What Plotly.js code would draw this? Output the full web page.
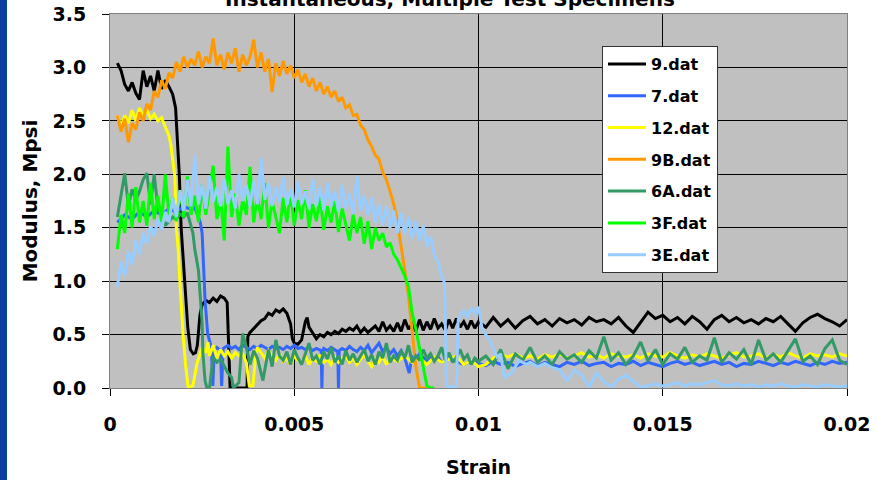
<!DOCTYPE html>
<html>
<head>
<meta charset="utf-8">
<script src="https://cdn.plot.ly/plotly-3.0.1.min.js"></script>
<style>html,body{margin:0;padding:0;background:#fff;}#chart{width:878px;height:480px;}</style>
</head>
<body>
<div id="chart"></div>
<script>
// ---------- tick labels ----------
const xTickVals = [0, 0.005, 0.01, 0.015, 0.02];
const xTickText = ['0', '0.005', '0.01', '0.015', '0.02'];
const yTickVals = [0, 0.5, 1.0, 1.5, 2.0, 2.5, 3.0, 3.5];
const yTickText = ['0.0', '0.5', '1.0', '1.5', '2.0', '2.5', '3.0', '3.5'];
const seriesNames = ['9.dat', '7.dat', '12.dat', '9B.dat', '6A.dat', '3F.dat', '3E.dat'];

// shared strain samples for the flat tail (0.010 .. 0.020)
const strainTail = [0.0100,0.0102,0.0104,0.0106,0.0108,0.0110,0.0112,0.0114,0.0116,0.0118,
  0.0120,0.0122,0.0124,0.0126,0.0128,0.0130,0.0132,0.0134,0.0136,0.0138,
  0.0140,0.0142,0.0144,0.0146,0.0148,0.0150,0.0152,0.0154,0.0156,0.0158,
  0.0160,0.0162,0.0164,0.0166,0.0168,0.0170,0.0172,0.0174,0.0176,0.0178,
  0.0180,0.0182,0.0184,0.0186,0.0188,0.0190,0.0192,0.0194,0.0196,0.0198,0.0200];

// ---------- 9.dat (black) ----------
const strain9 = [0.0002,0.0003,0.0004,0.0005,0.0006,0.0007,0.0008,0.0009,0.0010,0.0011,0.0012,0.0013,0.0014,0.0015,0.0016,0.0017,
  0.00178,0.00183,0.00188,0.00193,0.00203,0.00211,0.00218,0.00226,0.00232,0.00237,0.00244,0.0025,0.0026,0.0027,0.0028,0.0029,0.0030,0.0031,0.00318,0.00322,0.00326,0.00372,0.00374,
  0.0038,0.0039,0.0040,0.0041,0.0042,0.0043,0.0044,0.0045,0.0046,0.0047,0.0048,0.0049,0.00495,0.0050,0.0051,0.0052,0.0053,0.00535,0.0054,0.0055,0.0056,0.0057,0.0058,0.0059,
  0.0060,0.0061,0.0062,0.0063,0.0064,0.0065,0.0066,0.0067,0.0068,0.0069,0.0070,0.0071,0.0072,0.0073,0.0074,0.0075,0.0076,0.0077,0.0078,0.0079,
  0.0080,0.0081,0.0082,0.0083,0.0084,0.0085,0.0086,0.0087,0.0088,0.0089,0.0090,0.0091,0.0092,0.0093,0.0094,0.0095,0.0096,0.0097,0.0098,0.0099];
const modulus9 = [3.04,2.97,2.84,2.78,2.86,2.76,2.70,2.97,2.82,2.92,2.78,2.97,2.80,2.88,2.82,2.75,
  2.62,2.35,2.0,1.5,0.98,0.57,0.36,0.32,0.33,0.40,0.68,0.78,0.82,0.80,0.84,0.81,0.86,0.84,0.80,0.40,0.0,0.0,0.48,
  0.52,0.56,0.60,0.63,0.65,0.70,0.68,0.73,0.71,0.74,0.70,0.60,0.46,0.42,0.41,0.45,0.62,0.66,0.57,0.52,0.46,0.50,0.48,0.52,
  0.50,0.53,0.51,0.55,0.53,0.56,0.54,0.58,0.52,0.56,0.52,0.55,0.58,0.53,0.62,0.54,0.58,0.53,0.61,0.53,
  0.64,0.55,0.60,0.53,0.64,0.54,0.62,0.55,0.65,0.56,0.60,0.54,0.64,0.56,0.65,0.57,0.62,0.55,0.63,0.56];
const modulus9Tail = [0.62,0.57,0.66,0.58,0.64,0.56,0.63,0.67,0.60,0.64,
  0.58,0.65,0.61,0.64,0.59,0.66,0.62,0.64,0.60,0.66,
  0.58,0.52,0.62,0.71,0.65,0.68,0.62,0.66,0.60,0.67,
  0.62,0.55,0.64,0.68,0.62,0.66,0.61,0.64,0.60,0.65,
  0.62,0.67,0.60,0.53,0.61,0.66,0.69,0.65,0.62,0.58,0.64];

// ---------- 7.dat (blue) ----------
const strain7 = [0.0002,0.0004,0.0006,0.0008,0.0010,0.0012,0.0014,0.0016,0.0018,0.0020,0.0022,0.0023,0.00245,0.0025,0.00258,0.00265,0.00275,
  0.00279,0.00283,0.0029,0.0030,0.00303,0.00307,0.0032,0.0033,0.0034,0.0035,0.0036,0.0037,0.0038,0.0039,0.0040,0.0041,0.0042,0.0043,0.0044,
  0.0045,0.0046,0.0047,0.0048,0.0049,0.0050,0.0051,0.0052,0.0053,0.0054,0.0055,0.0056,0.00573,0.00575,0.00577,0.0058,0.0059,0.0060,0.0061,0.00618,
  0.0062,0.00622,0.0063,0.0064,0.0065,0.0066,0.0067,0.0068,0.0069,0.0070,0.0071,0.0072,0.0073,0.0074,0.0075,0.0076,0.0077,0.0078,0.0079,0.0080,
  0.00812,0.0082,0.0083,0.0084,0.0085,0.0086,0.0087,0.0088,0.0089,0.0090,0.0092,0.0094,0.0096,0.0098];
const modulus7 = [1.55,1.62,1.58,1.65,1.60,1.66,1.62,1.68,1.64,1.70,1.67,1.69,1.55,1.45,0.82,0.51,0.38,
  0.02,0.36,0.38,0.35,0.02,0.37,0.40,0.37,0.39,0.36,0.40,0.38,0.36,0.39,0.37,0.40,0.38,0.36,0.39,
  0.37,0.38,0.36,0.39,0.37,0.40,0.37,0.38,0.36,0.38,0.35,0.37,0.35,0.0,0.34,0.37,0.35,0.38,0.36,0.34,
  0.0,0.35,0.37,0.35,0.39,0.36,0.34,0.38,0.35,0.40,0.33,0.37,0.42,0.34,0.38,0.32,0.36,0.30,0.35,0.28,
  0.14,0.30,0.26,0.32,0.28,0.25,0.30,0.26,0.29,0.24,0.28,0.25,0.22,0.26];
const modulus7Tail = [0.23,0.21,0.25,0.22,0.24,0.20,0.23,0.25,0.21,0.24,
  0.22,0.20,0.24,0.22,0.25,0.21,0.23,0.24,0.20,0.23,
  0.22,0.25,0.21,0.24,0.22,0.20,0.23,0.25,0.22,0.24,
  0.21,0.23,0.25,0.22,0.24,0.20,0.23,0.22,0.25,0.23,
  0.21,0.24,0.22,0.25,0.23,0.21,0.24,0.22,0.25,0.23,0.24];

// ---------- 12.dat (yellow) ----------
const strain12 = [0.0002,0.0003,0.0004,0.0005,0.0006,0.0007,0.0008,0.0009,0.0010,0.0011,0.0012,0.0013,0.0014,0.0015,0.0016,0.00165,0.0017,0.00176,
  0.0018,0.00185,0.0019,0.00198,0.00205,0.00212,0.00225,0.00236,0.0025,0.0026,0.00266,0.0027,0.0028,0.0029,0.0030,0.0031,0.0032,0.0033,0.0034,
  0.0035,0.0036,0.0037,0.00378,0.00388,0.00395,0.0040,0.0041,0.0042,0.0043,0.0044,0.0045,0.0046,0.0047,0.0048,0.0049,0.0050,0.0051,0.0052,
  0.0053,0.0054,0.0055,0.0056,0.0057,0.0058,0.0059,0.0060,0.0061,0.0062,0.0063,0.0064,0.0065,0.0066,0.0067,0.0068,0.0069,0.0070,0.0071,
  0.0072,0.0073,0.0074,0.0075,0.0076,0.0078,0.0080,0.0082,0.0084,0.0086,0.0088,0.0090,0.0092,0.0094,0.0096,0.0098];
const modulus12 = [2.55,2.45,2.55,2.48,2.60,2.50,2.62,2.54,2.60,2.52,2.56,2.50,2.53,2.44,2.36,2.28,2.12,1.98,
  1.50,1.30,0.98,0.51,0.22,0.01,0.02,0.23,0.38,0.33,0.43,0.30,0.40,0.28,0.36,0.30,0.34,0.28,0.33,
  0.30,0.32,0.24,0.02,0.02,0.30,0.38,0.33,0.28,0.35,0.30,0.26,0.32,0.25,0.28,0.22,0.30,0.26,0.24,
  0.30,0.22,0.28,0.25,0.31,0.24,0.27,0.22,0.29,0.24,0.28,0.30,0.24,0.28,0.22,0.27,0.31,0.25,0.20,
  0.27,0.24,0.30,0.22,0.28,0.25,0.30,0.24,0.28,0.22,0.29,0.24,0.27,0.30,0.22,0.26];
const modulus12Tail = [0.20,0.22,0.28,0.31,0.29,0.32,0.28,0.30,0.27,0.31,
  0.29,0.32,0.28,0.30,0.33,0.29,0.31,0.28,0.32,0.30,
  0.29,0.31,0.28,0.32,0.30,0.29,0.33,0.30,0.28,0.31,
  0.29,0.32,0.30,0.28,0.31,0.33,0.29,0.30,0.32,0.28,
  0.31,0.29,0.33,0.30,0.28,0.32,0.30,0.31,0.29,0.32,0.30];

// ---------- 9B.dat (orange) ----------
const strain9B = [0.0002,0.0003,0.0004,0.0005,0.0006,0.0007,0.0008,0.0009,0.0010,0.0011,0.0012,0.0013,0.0014,0.0015,0.0016,0.0017,0.0018,0.0019,
  0.0020,0.0021,0.0022,0.0023,0.0024,0.0025,0.0026,0.0027,0.0028,0.0029,0.0030,0.0031,0.0032,0.0033,0.0034,0.0035,0.0036,0.0037,0.0038,0.0039,
  0.0040,0.0041,0.0042,0.0043,0.0044,0.0045,0.0046,0.0047,0.0048,0.0049,0.0050,0.0051,0.0052,0.0053,0.0054,0.0055,0.0056,0.0057,0.0058,0.0059,
  0.0060,0.0061,0.0062,0.0063,0.0064,0.0065,0.0066,0.0067,0.0068,0.0069,0.0070,0.0071,0.0072,0.0073,0.0074,0.0075,0.0076,0.0077,0.0078,0.0079,
  0.0080,0.0081,0.0082,0.0083,0.0084,0.0086];
const modulus9B = [2.55,2.40,2.52,2.30,2.48,2.42,2.58,2.50,2.66,2.60,2.78,2.72,2.88,2.80,2.95,2.90,3.05,2.96,
  3.10,3.00,3.08,3.02,3.15,3.00,3.10,3.04,3.27,3.02,3.12,2.98,3.14,3.04,3.18,2.96,3.12,3.02,3.10,3.26,
  3.00,3.14,2.96,3.08,2.77,3.04,2.92,3.06,2.94,3.02,2.90,2.98,2.86,2.94,2.82,2.90,2.78,2.86,2.75,2.82,
  2.72,2.78,2.68,2.72,2.62,2.65,2.55,2.56,2.46,2.42,2.32,2.26,2.18,2.14,2.02,1.95,1.84,1.72,1.55,1.30,
  1.10,0.86,0.54,0.20,0.0,0.0];

// ---------- 6A.dat (sea green) ----------
const strain6A = [0.0002,0.0003,0.0004,0.0005,0.0006,0.0007,0.0008,0.0009,0.0010,0.0011,0.0012,0.0013,0.0014,0.0015,0.0016,0.0017,0.0018,0.0019,
  0.0020,0.0021,0.00225,0.0023,0.0024,0.0025,0.00252,0.00258,0.00263,0.0027,0.0028,0.0029,0.0030,0.0031,0.0032,0.0033,0.00335,0.0035,
  0.0036,0.0037,0.0038,0.0039,0.0040,0.00415,0.0043,0.0044,0.0045,0.0046,0.0047,0.0048,0.0049,0.0050,0.0051,0.0052,0.0053,0.0054,0.0055,
  0.0056,0.0057,0.0058,0.0059,0.0060,0.0061,0.0062,0.0063,0.0064,0.0065,0.0066,0.0067,0.0068,0.0069,0.0070,0.0071,0.0072,0.0073,0.0074,
  0.0075,0.0076,0.0077,0.0078,0.0079,0.0080,0.0081,0.0082,0.0083,0.0084,0.0085,0.0086,0.0087,0.0088,0.0089,0.0090,0.0091,0.0092,0.0093,
  0.0094,0.0095,0.0096,0.0097,0.0098,0.0099];
const modulus6A = [1.60,1.82,2.01,1.70,1.86,1.76,1.84,1.95,2.01,1.72,2.00,1.68,1.62,1.52,1.56,1.60,1.58,1.63,
  1.60,1.64,1.45,1.30,1.10,0.61,0.33,0.07,0.0,0.0,0.29,0.24,0.27,0.20,0.14,0.10,0.0,0.05,
  0.51,0.38,0.22,0.35,0.28,0.07,0.36,0.20,0.45,0.30,0.26,0.34,0.22,0.36,0.28,0.22,0.32,0.42,0.26,
  0.30,0.22,0.34,0.27,0.38,0.24,0.30,0.22,0.35,0.26,0.32,0.24,0.30,0.36,0.25,0.31,0.22,0.34,0.28,
  0.42,0.24,0.30,0.26,0.35,0.28,0.40,0.24,0.30,0.26,0.36,0.28,0.32,0.25,0.30,0.38,0.26,0.33,0.24,
  0.29,0.36,0.27,0.31,0.22,0.28];
const modulus6ATail = [0.25,0.30,0.22,0.36,0.18,0.32,0.26,0.38,0.24,0.30,
  0.22,0.34,0.27,0.31,0.24,0.35,0.28,0.48,0.26,0.33,
  0.22,0.30,0.43,0.25,0.36,0.22,0.32,0.27,0.38,0.24,
  0.30,0.26,0.47,0.24,0.33,0.27,0.36,0.22,0.45,0.26,
  0.32,0.24,0.35,0.46,0.25,0.30,0.22,0.37,0.45,0.26,0.22];

// ---------- 3F.dat (bright green) ----------
const strain3F = [0.0002,0.0003,0.0004,0.0005,0.0006,0.0007,0.0008,0.0009,0.0010,0.0011,0.0012,0.0013,0.0014,0.0015,0.0016,0.0017,0.0018,0.0019,
  0.0020,0.0021,0.0022,0.0023,0.0024,0.0025,0.0026,0.0027,0.0028,0.0029,0.0030,0.0031,0.0032,0.0033,0.0034,0.0035,0.0036,0.0037,0.0038,0.0039,
  0.0040,0.0041,0.0042,0.0043,0.0044,0.0045,0.0046,0.0047,0.0048,0.0049,0.0050,0.0051,0.0052,0.0053,0.0054,0.0055,0.0056,0.0057,0.0058,0.0059,
  0.0060,0.0061,0.0062,0.0063,0.0064,0.0065,0.0066,0.0067,0.0068,0.0069,0.0070,0.0071,0.0072,0.0073,0.0074,0.0075,0.0076,0.0077,0.0078,0.0079,
  0.0080,0.0081,0.0082,0.0083,0.0084,0.0085,0.0086,0.0087,0.0088];
const modulus3F = [1.30,1.62,1.45,1.82,1.50,1.88,1.55,1.75,1.52,1.92,1.58,1.80,1.55,2.00,1.62,1.78,1.56,1.85,
  1.60,1.98,1.62,1.80,1.55,1.90,1.62,1.85,2.08,1.58,1.78,1.38,2.26,1.60,1.82,1.52,1.76,1.62,2.07,1.55,
  1.80,1.58,1.92,1.50,1.75,1.60,1.45,1.78,1.55,1.84,1.52,1.76,1.58,1.85,1.50,1.72,1.56,1.80,1.48,1.70,
  1.55,1.75,1.46,1.68,1.52,1.38,1.62,1.45,1.60,1.35,1.56,1.30,1.50,1.38,1.45,1.32,1.36,1.25,1.20,1.12,
  1.05,0.95,0.70,0.55,0.38,0.20,0.02,0.0,0.0];

// ---------- 3E.dat (light blue) ----------
const strain3E = [0.0002,0.0003,0.0004,0.0005,0.0006,0.0007,0.0008,0.0009,0.0010,0.0011,0.0012,0.0013,0.0014,0.0015,0.0016,0.0017,0.0018,0.0019,
  0.0020,0.0021,0.0022,0.0023,0.0024,0.0025,0.0026,0.0027,0.0028,0.0029,0.0030,0.0031,0.0032,0.0033,0.0034,0.0035,0.0036,0.0037,0.0038,0.0039,
  0.0040,0.0041,0.0042,0.0043,0.0044,0.0045,0.0046,0.0047,0.0048,0.0049,0.0050,0.0051,0.0052,0.0053,0.0054,0.0055,0.0056,0.0057,0.0058,0.0059,
  0.0060,0.0061,0.0062,0.0063,0.0064,0.0065,0.0066,0.0067,0.0068,0.0069,0.0070,0.0071,0.0072,0.0073,0.0074,0.0075,0.0076,0.0077,0.0078,0.0079,
  0.0080,0.0081,0.0082,0.0083,0.0084,0.0085,0.0086,0.0087,0.0088,0.0089,0.0090,0.00908,0.00913,0.0094,0.00945,0.0096,0.0097,0.0098,0.0099,
  0.0100,0.0101,0.0103,0.0105,0.0106,0.0107,0.0109,0.0111,0.0113,0.0114,0.0116,0.0118,0.0120,0.0122,0.0124,0.0126,0.0128,0.0130,0.0132,
  0.0134,0.0136,0.0138,0.0140,0.0142,0.0144,0.0146,0.0148,0.0150,0.0152,0.0154,0.0156,0.0158,0.0160,0.0162,0.0164,0.0166,0.0168,0.0170,
  0.0172,0.0174,0.0176,0.0178,0.0180,0.0182,0.0184,0.0186,0.0188,0.0190,0.0192,0.0194,0.0196,0.0198,0.0200];
const modulus3E = [0.95,1.18,1.05,1.28,1.15,1.38,1.25,1.45,1.35,1.52,1.42,1.58,1.48,1.65,1.55,1.78,1.60,1.85,
  1.66,1.95,1.70,2.18,1.72,1.90,1.68,1.98,1.74,1.88,1.70,1.96,1.72,1.85,1.68,2.00,1.75,1.90,1.70,1.94,
  1.72,2.15,1.76,1.92,1.70,1.88,1.74,1.97,1.71,1.86,1.69,1.93,1.72,1.84,1.68,1.96,1.70,1.88,1.66,1.92,
  1.70,1.84,1.65,1.90,1.68,1.82,1.63,1.98,1.66,1.80,1.62,1.78,1.55,1.72,1.52,1.70,1.50,1.66,1.45,1.64,
  1.44,1.60,1.40,1.56,1.38,1.52,1.32,1.42,1.25,1.18,1.05,0.98,0.02,0.0,0.64,0.73,0.66,0.75,0.70,
  0.76,0.55,0.45,0.29,0.32,0.10,0.14,0.26,0.22,0.24,0.20,0.23,0.19,0.17,0.07,0.17,0.12,0.01,0.14,
  0.06,0.01,0.08,0.12,0.06,0.01,0.02,0.04,0.02,0.03,0.05,0.02,0.04,0.03,0.05,0.07,0.03,0.02,0.04,
  0.02,0.03,0.01,0.03,0.02,0.04,0.02,0.01,0.03,0.02,0.01,0.03,0.02,0.01,0.02];

const colors = ['#000000', '#3366ff', '#ffff00', '#ff9900', '#339966', '#00ff00', '#99ccff'];
const strains = [strain9.concat(strainTail), strain7.concat(strainTail), strain12.concat(strainTail), strain9B,
  strain6A.concat(strainTail), strain3F, strain3E];
const moduli = [modulus9.concat(modulus9Tail), modulus7.concat(modulus7Tail), modulus12.concat(modulus12Tail), modulus9B,
  modulus6A.concat(modulus6ATail), modulus3F, modulus3E];

const traces = seriesNames.map((name, i) => ({
  type: 'scatter', mode: 'lines', name: name, legendgroup: 'g' + i,
  x: strains[i], y: moduli[i],
  line: {color: colors[i], width: 3},
  hoverinfo: 'skip'
}));

const fontFam = 'DejaVu Sans, Arial, sans-serif';
const tickFont = {family: fontFam, size: 19, color: '#000', weight: 'bold'};

const layout = {
  width: 878, height: 480,
  margin: {l: 110, r: 31, t: 14, b: 92, pad: 0},
  paper_bgcolor: '#ffffff', plot_bgcolor: '#c0c0c0',
  showlegend: true,
  xaxis: {
    range: [0, 0.02], tickmode: 'array', tickvals: xTickVals, ticktext: xTickText,
    showgrid: true, gridcolor: '#000000', gridwidth: 1, zeroline: false,
    ticks: 'outside', ticklen: 7, tickwidth: 1, tickcolor: '#000',
    showline: true, linecolor: '#808080', linewidth: 1, mirror: true,
    tickfont: tickFont, ticklabelstandoff: 12,
    title: {text: 'Strain', font: {family: fontFam, size: 19, color: '#000', weight: 'bold'}, standoff: 26}
  },
  yaxis: {
    range: [0, 3.5], tickmode: 'array', tickvals: yTickVals, ticktext: yTickText,
    showgrid: true, gridcolor: '#000000', gridwidth: 1, zeroline: false,
    ticks: 'outside', ticklen: 7, tickwidth: 1, tickcolor: '#000',
    showline: true, linecolor: '#808080', linewidth: 1, mirror: true,
    tickfont: tickFont, ticklabelstandoff: 12,
    title: {text: 'Modulus, Mpsi', font: {family: fontFam, size: 20, color: '#000', weight: 'bold'}, standoff: 9}
  },
  legend: {
    x: (602 - 110) / 737, y: (388 - 46) / 374, xanchor: 'left', yanchor: 'top',
    bgcolor: '#ffffff', bordercolor: '#333333', borderwidth: 1,
    font: {family: fontFam, size: 16, color: '#000', weight: 'bold'},
    tracegroupgap: 8, itemwidth: 38
  },
  annotations: [{
    text: 'Instantaneous, Multiple Test Specimens', xref: 'paper', yref: 'paper',
    x: (450 - 110) / 737, y: (388 + 1) / 374, xanchor: 'center', yanchor: 'middle',
    showarrow: false, font: {family: fontFam, size: 20, color: '#000', weight: 'bold'}
  }],
  shapes: [{
    type: 'rect', xref: 'paper', yref: 'paper',
    x0: -110 / 737, x1: (7 - 110) / 737, y0: (388 - 480) / 374, y1: 388 / 374,
    fillcolor: '#0b3d9e', line: {width: 0}, layer: 'below'
  }]
};

Plotly.newPlot('chart', traces, layout, {displayModeBar: false, staticPlot: true});
</script>
</body>
</html>
